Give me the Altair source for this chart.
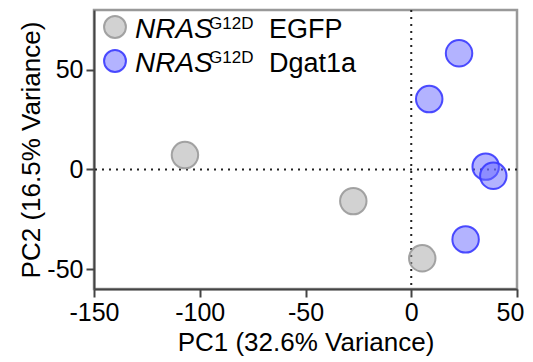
import altair as alt
import pandas as pd

groups = ["EGFP", "Dgat1a"]
egfp_pc1 = [-107.0, -27.4, 5.2]
egfp_pc2 = [7.2, -15.9, -44.6]
dgat_pc1 = [22.6, 8.5, 35.2, 38.8, 25.7]
dgat_pc2 = [58.3, 35.3, 1.4, -3.2, -35.1]

x_ticks = [-150, -100, -50, 0, 50]
y_ticks = [-50, 0, 50]

fills = ["#a6a6a6", "#6868ff"]
strokes = ["#9a9a9a", "#3a3aff"]

df = pd.DataFrame({
    "pc1": egfp_pc1 + dgat_pc1,
    "pc2": egfp_pc2 + dgat_pc2,
    "group": [groups[0]] * len(egfp_pc1) + [groups[1]] * len(dgat_pc1),
})

FONT = "Liberation Sans"
LBL = "toString(datum.value)"

xenc = alt.X("pc1:Q", scale=alt.Scale(domain=[-150, 50], nice=False, zero=False),
             axis=alt.Axis(values=x_ticks, title="PC1 (32.6% Variance)", labelExpr=LBL,
                           labelOffset={"condition": {"test": "datum.value == 50", "value": -7},
                                        "value": 0}))
yenc = alt.Y("pc2:Q", scale=alt.Scale(domain=[-60, 80], nice=False, zero=False),
             axis=alt.Axis(values=y_ticks, title="PC2 (16.5% Variance)", labelExpr=LBL))

vline = alt.Chart(pd.DataFrame({"v": [0]})).mark_rule(
    color="#222", strokeWidth=2, strokeDash=[2, 5]).encode(x="v:Q")
hline = alt.Chart(pd.DataFrame({"v": [0]})).mark_rule(
    color="#222", strokeWidth=2, strokeDash=[2, 5]).encode(y="v:Q")

points = alt.Chart(df).mark_circle(
    size=700, strokeWidth=2, opacity=1, fillOpacity=0.5, strokeOpacity=0.9
).encode(
    x=xenc, y=yenc,
    color=alt.Color("group:N", scale=alt.Scale(domain=groups, range=fills), legend=None),
    stroke=alt.Stroke("group:N", scale=alt.Scale(domain=groups, range=strokes), legend=None),
)

layers = [vline, hline, points]

one = pd.DataFrame({"a": [0]})
for i, g in enumerate(groups):
    cy = 17 + 34 * i
    sym = alt.Chart(one).mark_point(
        shape="circle", size=480, filled=True, strokeWidth=2, opacity=1,
        fill=fills[i], fillOpacity=0.5, stroke=strokes[i], strokeOpacity=0.9
    ).encode(x=alt.value(21), y=alt.value(cy))
    t1 = alt.Chart(one).mark_text(
        text="NRAS", font=FONT, fontSize=28, fontStyle="italic", align="left",
        baseline="alphabetic", color="black"
    ).encode(x=alt.value(41), y=alt.value(cy + 11))
    t2 = alt.Chart(one).mark_text(
        text="G12D", font=FONT, fontSize=17, align="left",
        baseline="alphabetic", color="black"
    ).encode(x=alt.value(115), y=alt.value(cy + 2))
    t3 = alt.Chart(one).mark_text(
        text=g, font=FONT, fontSize=27, align="left",
        baseline="alphabetic", color="black"
    ).encode(x=alt.value(175), y=alt.value(cy + 11))
    layers += [sym, t1, t2, t3]

chart = alt.layer(*layers).properties(
    width=423, height=279,
    autosize=alt.AutoSizeParams(type="none"),
    padding={"left": 86, "top": 2, "right": 8, "bottom": 71},
).configure_view(
    stroke="#999", strokeWidth=2.5
).configure_axis(
    labelFont=FONT, titleFont=FONT, labelFontSize=25, titleFontSize=26,
    labelColor="black", titleColor="black", titleFontWeight="normal",
    domainColor="#444", domainWidth=2, tickColor="#444", tickWidth=2,
    tickSize=8, grid=False, labelPadding=3, labelFlush=False,
).configure_axisX(titlePadding=4).configure_axisY(titlePadding=2)

chart.save("out.html", embed_options={"renderer": "svg", "actions": False})
